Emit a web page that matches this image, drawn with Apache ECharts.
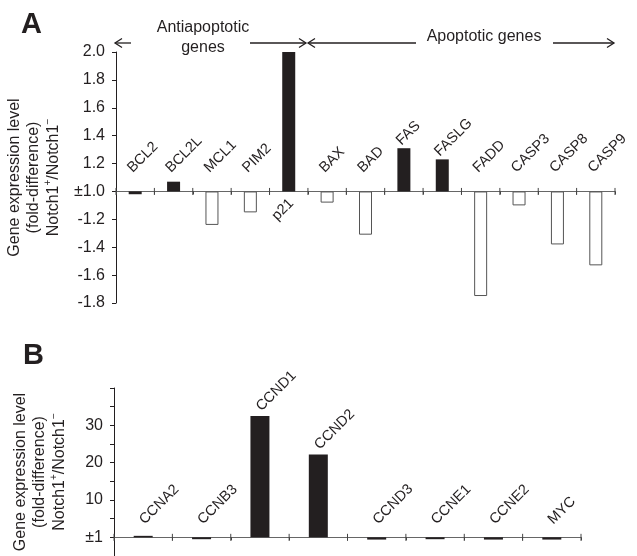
<!DOCTYPE html>
<html>
<head>
<meta charset="utf-8">
<script src="https://cdn.jsdelivr.net/npm/echarts@6/dist/echarts.min.js"></script>
<style>
html,body{margin:0;padding:0;background:#fff;}
#chart{width:637px;height:556px;}
</style>
</head>
<body>
<div id="chart"></div>
<script>
// A: apoptosis genes, fold-difference Notch1+/Notch1- (negative = down)
var genesA = ['BCL2', 'BCL2L', 'MCL1', 'PIM2', 'p21', 'BAX', 'BAD', 'FAS', 'FASLG', 'FADD', 'CASP3', 'CASP8', 'CASP9'];
var foldA = [-1.02, 1.07, -1.24, -1.15, 2.0, -1.08, -1.31, 1.31, 1.23, -1.75, -1.10, -1.38, -1.53];
var ticksA = ['-1.8', '-1.6', '-1.4', '-1.2', '\u00b11.0', '1.2', '1.4', '1.6', '1.8', '2.0'];

// B: cell-cycle genes, value above/below the ±1 line
var genesB = ['CCNA2', 'CCNB3', 'CCND1', 'CCND2', 'CCND3', 'CCNE1', 'CCNE2', 'MYC'];
var foldB = [0.4, -0.5, 32.5, 22.2, -0.6, -0.5, -0.6, -0.6];
var ticksBAt = [0, 10, 20, 30];
var ticksB = ['\u00b11', '10', '20', '30'];

var FONT = '"Liberation Sans", Arial, Helvetica, sans-serif';
var INK = '#231f20';

// fold value -> distance from the ±1 baseline
function toOffset(f) { return f > 0 ? f - 1 : f + 1; }
var offA = foldA.map(toOffset);

var minA = -0.8, maxA = 1.0, stepA = 0.2;
var minB = -5, maxB = 40, stepB = 5;
function labelA(v) { var k = Math.round((v - minA) / stepA); return ticksA[k] || ''; }
function labelB(v) { var k = ticksBAt.indexOf(Math.round(v)); return k < 0 ? '' : ticksB[k]; }

var yTitle = 'Gene expression level\n(fold-difference)\n{n|Notch1}{s|+}{n|/Notch1}{s|\u2212}';
var nameStyle = {
    fontSize: 16, fontFamily: FONT, color: INK, lineHeight: 19.5,
    rich: {
        n: { fontSize: 16, fontFamily: FONT, color: INK, lineHeight: 19.5 },
        s: { fontSize: 10, fontFamily: FONT, color: INK, lineHeight: 19.5, verticalAlign: 'top' }
    }
};

// up = solid, down = open box; very thin bars just show as a dark line
function barItems(arr, thin) {
    return arr.map(function (v) {
        return (v > 0 || Math.abs(v) < thin)
            ? { value: v, itemStyle: { color: INK } }
            : { value: v, itemStyle: { color: '#fff', borderColor: '#555', borderWidth: 1 } };
    });
}

// label anchors: just over the bar, at least a bit above the baseline
var labA = offA.map(function (v, i) { return [i, Math.max(v + 0.022, 0.136), v >= maxA ? 1 : 0]; });
var labB = foldB.map(function (v, i) { return [i, Math.max(v + 1.6, 3.76), 0]; });

// gene name, rotated 45°
function geneLabel(names, dx, dy) {
    return function (params, api) {
        var i = api.value(0);
        var font = '14.5px ' + FONT;
        if (api.value(2) === 1) {
            // bar hits the top, so the name goes under the baseline
            var b = api.coord([i, 0]);
            return {
                type: 'text', x: b[0] + 8, y: b[1] + 15, rotation: Math.PI / 4,
                style: { text: names[params.dataIndex], font: font, fill: INK, align: 'right', verticalAlign: 'bottom' }
            };
        }
        var p = api.coord([i, api.value(1)]);
        return {
            type: 'text', x: p[0] + dx, y: p[1] + dy, rotation: Math.PI / 4,
            style: { text: names[params.dataIndex], font: font, fill: INK, align: 'left', verticalAlign: 'bottom' }
        };
    };
}

function xAxis(grid, cats) {
    return {
        gridIndex: grid, type: 'category', data: cats, position: 'bottom',
        axisLine: { show: true, onZero: true, lineStyle: { color: '#666', width: 1.2 } },
        axisTick: { show: true, interval: 0, length: 3, lineStyle: { color: '#444' } },
        axisLabel: { show: false, interval: 0 }, splitLine: { show: false }
    };
}

function chevron(x, y, dir) {
    return { type: 'polyline', shape: { points: [[x - dir * 7, y - 4.5], [x, y], [x - dir * 7, y + 4.5]] },
        style: { stroke: INK, lineWidth: 1.3, fill: null } };
}
function hline(x1, x2, y) {
    return { type: 'line', shape: { x1: x1, y1: y, x2: x2, y2: y }, style: { stroke: INK, lineWidth: 1.3 } };
}

var decor = [
    { type: 'text', x: 21, y: 10, style: { text: 'A', font: 'bold 29px ' + FONT, fill: INK } },
    { type: 'text', x: 23, y: 341, style: { text: 'B', font: 'bold 29px ' + FONT, fill: INK } },
    hline(115, 131, 43), chevron(115, 43, -1),
    { type: 'text', x: 203, y: 38, style: { text: 'Antiapoptotic\ngenes', font: '16px ' + FONT, fill: INK,
        align: 'center', verticalAlign: 'middle', lineHeight: 20 } },
    hline(250, 306, 43), chevron(306, 43, 1),
    hline(308, 416, 43), chevron(308, 43, -1),
    { type: 'text', x: 484, y: 37, style: { text: 'Apoptotic genes', font: '16px ' + FONT, fill: INK,
        align: 'center', verticalAlign: 'middle' } },
    hline(553, 614, 43), chevron(614, 43, 1)
];

var myChart = echarts.init(document.getElementById('chart'));
var option = {
    backgroundColor: '#fff',
    animation: false,
    grid: [
        { left: 116, top: 52, width: 499, height: 251, containLabel: false, outerBoundsMode: 'none' },
        { left: 114, top: 388, width: 467, height: 168, containLabel: false, outerBoundsMode: 'none' }
    ],
    xAxis: [xAxis(0, genesA), xAxis(1, genesB)],
    yAxis: [{
        gridIndex: 0, type: 'value', min: minA, max: maxA, interval: stepA,
        axisLine: { show: true, lineStyle: { color: INK, width: 1 } },
        axisTick: { show: true, length: 4, lineStyle: { color: INK } },
        axisLabel: { formatter: labelA, fontSize: 16, color: INK, fontFamily: FONT, margin: 11 },
        splitLine: { show: false },
        name: yTitle, nameLocation: 'middle', nameRotate: 90, nameGap: 47, nameTextStyle: nameStyle
    }, {
        gridIndex: 1, type: 'value', min: minB, max: maxB, interval: stepB,
        axisLine: { show: true, lineStyle: { color: INK, width: 1 } },
        axisTick: { show: true, length: 4, lineStyle: { color: INK } },
        axisLabel: { formatter: labelB, fontSize: 16, color: INK, fontFamily: FONT, margin: 11 },
        splitLine: { show: false },
        name: yTitle, nameLocation: 'middle', nameRotate: 90, nameGap: 45, nameTextStyle: nameStyle
    }],
    series: [{
        type: 'bar', xAxisIndex: 0, yAxisIndex: 0, barWidth: 13, data: barItems(offA, 0.03), silent: true
    }, {
        type: 'custom', xAxisIndex: 0, yAxisIndex: 0, data: labA, renderItem: geneLabel(genesA, 0, 3), silent: true
    }, {
        type: 'bar', xAxisIndex: 1, yAxisIndex: 1, barWidth: 19, data: barItems(foldB, 1), silent: true
    }, {
        type: 'custom', xAxisIndex: 1, yAxisIndex: 1, data: labB, renderItem: geneLabel(genesB, 4, 4), silent: true
    }],
    graphic: decor
};
myChart.setOption(option);

// divider ticks crossing the baseline, placed through the chart's own scales
function dividerTicks(axisIdx, n) {
    var finder = { xAxisIndex: axisIdx, yAxisIndex: axisIdx };
    var c = [];
    for (var i = 0; i < n; i++) c.push(myChart.convertToPixel(finder, [i, 0]));
    var half = (c[1][0] - c[0][0]) / 2;
    var out = [];
    for (var k = 0; k <= n; k++) {
        var x = k < n ? c[k][0] - half : c[n - 1][0] + half;
        var y = c[0][1];
        out.push({ type: 'line', z: 10, shape: { x1: x, y1: y - 3.5, x2: x, y2: y + 3.5 },
            style: { stroke: '#444', lineWidth: 1 } });
    }
    return out;
}
myChart.setOption({ graphic: decor.concat(dividerTicks(0, genesA.length), dividerTicks(1, genesB.length)) });
</script>
</body>
</html>
